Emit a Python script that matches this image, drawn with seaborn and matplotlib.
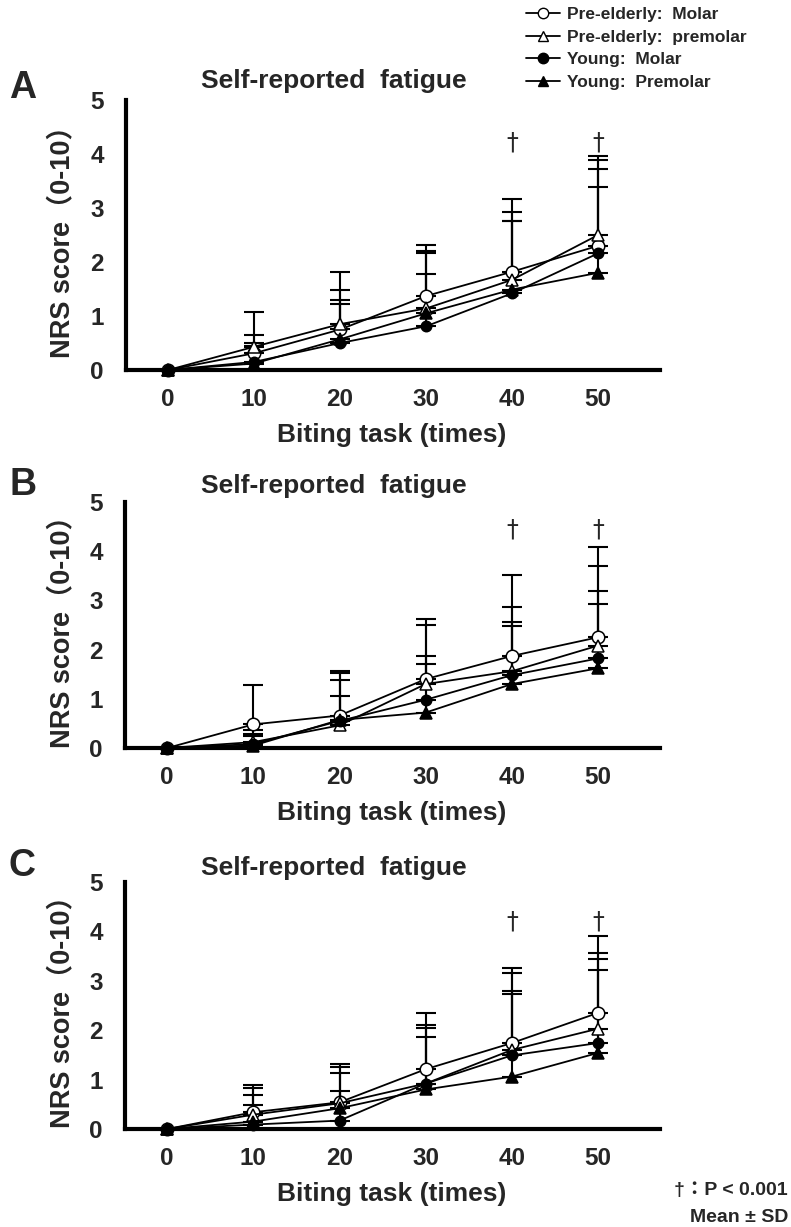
import numpy as np
import pandas as pd
import matplotlib
matplotlib.use("Agg")
import matplotlib.pyplot as plt
import seaborn as sns
from matplotlib.lines import Line2D

# ---------------- data ----------------
times = [0, 10, 20, 30, 40, 50]
series_names = ["Pre-elderly:  Molar", "Pre-elderly:  premolar",
                "Young:  Molar", "Young:  Premolar"]
panel_letters = ["A", "B", "C"]
dagger_times = [40, 50]

# Panel A means / SD
A_pe_molar = [0, 0.31, 0.75, 1.37, 1.82, 2.30]
A_pe_premolar = [0, 0.43, 0.85, 1.14, 1.67, 2.50]
A_y_molar = [0, 0.15, 0.50, 0.81, 1.42, 2.16]
A_y_premolar = [0, 0.12, 0.57, 1.05, 1.49, 1.80]
A_sd_pe_molar = [0, 0.76, 1.06, 0.94, 1.34, 1.66]
A_sd_pe_premolar = [0, 0.22, 0.63, 1.06, 1.25, 1.38]
A_sd_y_molar = [0, 0.30, 0.73, 0.96, 1.33, 1.56]
A_sd_y_premolar = [0, 0.38, 0.73, 1.11, 1.26, 1.58]

# Panel B
B_pe_molar = [0, 0.48, 0.66, 1.40, 1.87, 2.25]
B_pe_premolar = [0, 0.12, 0.46, 1.30, 1.56, 2.08]
B_y_molar = [0, 0.08, 0.55, 0.98, 1.48, 1.82]
B_y_premolar = [0, 0.05, 0.57, 0.72, 1.30, 1.62]
B_sd_pe_molar = [0, 0.81, 0.90, 1.23, 1.65, 1.84]
B_sd_pe_premolar = [0, 0.25, 1.06, 1.20, 1.30, 1.61]
B_sd_y_molar = [0, 0.20, 0.84, 0.89, 1.08, 1.37]
B_sd_y_premolar = [0, 0.20, 0.48, 0.99, 1.17, 1.31]

# Panel C
C_pe_molar = [0, 0.34, 0.54, 1.21, 1.74, 2.35]
C_pe_premolar = [0, 0.29, 0.52, 0.92, 1.60, 2.03]
C_y_molar = [0, 0.09, 0.17, 0.92, 1.49, 1.74]
C_y_premolar = [0, 0.15, 0.42, 0.80, 1.06, 1.54]
C_sd_pe_molar = [0, 0.56, 0.77, 1.13, 1.51, 1.56]
C_sd_pe_premolar = [0, 0.53, 0.74, 1.19, 1.56, 1.53]
C_sd_y_molar = [0, 0.40, 0.60, 1.12, 1.30, 1.71]
C_sd_y_premolar = [0, 0.54, 0.72, 1.06, 1.67, 1.68]

dagger_y = [4.22, 4.45, 4.2]

panels = [
    ([A_pe_molar, A_pe_premolar, A_y_molar, A_y_premolar],
     [A_sd_pe_molar, A_sd_pe_premolar, A_sd_y_molar, A_sd_y_premolar]),
    ([B_pe_molar, B_pe_premolar, B_y_molar, B_y_premolar],
     [B_sd_pe_molar, B_sd_pe_premolar, B_sd_y_molar, B_sd_y_premolar]),
    ([C_pe_molar, C_pe_premolar, C_y_molar, C_y_premolar],
     [C_sd_pe_molar, C_sd_pe_premolar, C_sd_y_molar, C_sd_y_premolar]),
]

# ---------------- style ----------------
sns.set_style("white")
plt.rcParams["font.family"] = ["Liberation Sans", "Noto Sans CJK JP", "DejaVu Sans"]
plt.rcParams["font.weight"] = "bold"

markers = ["o", "^", "o", "^"]
faces = ["white", "white", "black", "black"]
msizes = [9, 8, 7.5, 8.5]

W, H = 791, 1227
fig = plt.figure(figsize=(W / 100, H / 100), dpi=100)

def fx(px):
    return px / W

def fy(py):
    return 1 - py / H

rects = [
    (fx(126), fy(370), 534 / W, 270 / H),
    (fx(125), fy(748), 535 / W, 246 / H),
    (fx(125), fy(1129), 535 / W, 247 / H),
]
title_base = [88, 493, 875]
letter_base = [98, 495, 876]
xlabel_base = [442, 820, 1201]

for p, (means, sds) in enumerate(panels):
    ax = fig.add_axes(rects[p])
    for i, name in enumerate(series_names):
        df = pd.DataFrame({"time": times, "score": means[i]})
        sns.lineplot(data=df, x="time", y="score", ax=ax, color="black",
                     linewidth=1.3, marker=markers[i], markersize=msizes[i],
                     markerfacecolor=faces[i], markeredgecolor="black",
                     markeredgewidth=1.1, clip_on=False, zorder=3 + i,
                     legend=False)
        yerr = np.vstack([np.zeros(len(times)), sds[i]])
        ax.errorbar(times, means[i], yerr=yerr, fmt="none", ecolor="black",
                    elinewidth=1.5, capsize=7, capthick=1.5, zorder=2)
    for t in dagger_times:
        ax.text(t, dagger_y[p], "†", ha="center", va="center",
                fontsize=17, fontweight="normal", family=["DejaVu Sans"])
    ax.set_xlim(-4.9, 57.2)
    ax.set_ylim(0, 5)
    ax.set_xticks(times)
    ax.set_yticks([0, 1, 2, 3, 4, 5])
    ax.set_xticklabels([str(t) for t in times], fontsize=17.5, fontweight="bold")
    ax.set_yticklabels(["0", "1", "2", "3", "4", "5"], fontsize=17.5,
                       fontweight="bold")
    ax.tick_params(axis="x", length=0, pad=13)
    ax.tick_params(axis="y", length=0, pad=16)
    ax.set_xlabel("")
    ax.set_ylabel("")
    for s in ["top", "right"]:
        ax.spines[s].set_visible(False)
    for s in ["left", "bottom"]:
        ax.spines[s].set_linewidth(3)
        ax.spines[s].set_color("black")
    ax.patch.set_alpha(0)

    fig.text(fx(334), fy(title_base[p]), "Self-reported  fatigue",
             ha="center", va="baseline", fontsize=19, fontweight="bold")
    fig.text(fx(9), fy(letter_base[p]), panel_letters[p],
             ha="left", va="baseline", fontsize=27, fontweight="bold")
    fig.text(fx(392), fy(xlabel_base[p]), "Biting task (times)",
             ha="center", va="baseline", fontsize=19, fontweight="bold")
    ycenter = rects[p][1] + rects[p][3] / 2
    fig.text(fx(62), ycenter, "NRS score（0-10）", rotation=90,
             ha="center", va="center", fontsize=19.5, fontweight="bold")

leg_handles = [Line2D([0], [0], color="black", lw=1.3, marker=markers[i],
                      markersize=7.5, markerfacecolor=faces[i],
                      markeredgecolor="black") for i in range(4)]
fig.legend(leg_handles, series_names, loc="upper left",
           bbox_to_anchor=(fx(526), fy(7)), frameon=False, borderpad=0,
           borderaxespad=0, handlelength=1.95, handletextpad=0.4,
           labelspacing=0.43, prop={"weight": "bold", "size": 12.5})

fig.text(fx(788), fy(1195), "†：P < 0.001", ha="right", va="baseline",
         fontsize=14, fontweight="bold")
fig.text(fx(788), fy(1222), "Mean ± SD", ha="right", va="baseline",
         fontsize=14, fontweight="bold")

fig.savefig("out.png", dpi=100)
